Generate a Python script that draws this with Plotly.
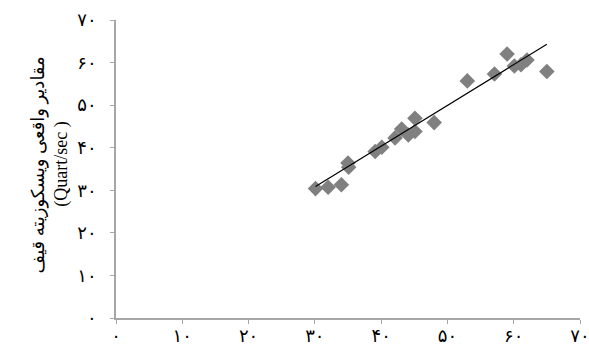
import plotly.graph_objects as go

x_vals = [30.1, 32.0, 34.0, 35.0, 35.1, 39.1, 40.1, 42.1, 43.1, 44.1, 45.1, 45.1, 48.0,
          53.0, 57.1, 59.0, 60.1, 61.1, 62.0, 65.0]
y_vals = [30.4, 30.7, 31.3, 36.4, 35.4, 39.1, 40.1, 42.3, 44.4, 43.0, 43.8, 46.9, 45.9,
          55.7, 57.3, 62.0, 59.2, 59.5, 60.6, 57.9]

# linear trend line end points
trend_x = [30.1, 65.0]
trend_y = [30.9, 64.3]

tick_vals = [0, 10, 20, 30, 40, 50, 60, 70]
tick_text = ['۰', '۱۰', '۲۰', '۳۰', '۴۰', '۵۰', '۶۰', '۷۰']

y_title_lines = ['مقادیر واقعی ویسکوزیته قیف', '(Quart/sec )']

font = "Liberation Serif, DejaVu Sans"

fig = go.Figure()
fig.add_trace(go.Scatter(x=x_vals, y=y_vals, mode='markers',
                         marker=dict(symbol='diamond', size=12, color='#808080'),
                         showlegend=False))
fig.add_trace(go.Scatter(x=trend_x, y=trend_y, mode='lines',
                         line=dict(color='black', width=1.2), showlegend=False))

axis_common = dict(range=[0, 70], tickvals=tick_vals, ticktext=tick_text,
                   showgrid=False, zeroline=False, showline=True, linecolor='#a6a6a6',
                   linewidth=1.5, ticks='outside', ticklen=4, tickcolor='#a6a6a6',
                   automargin=False, ticklabeloverflow='allow',
                   tickfont=dict(family=font, size=18, color='black'))

fig.update_xaxes(**axis_common, ticklabelstandoff=-3)
fig.update_yaxes(**axis_common, ticklabelstandoff=10)

# y axis title as two rotated lines left of the tick labels
for x_pos, line in zip([-0.166, -0.118], y_title_lines):
    fig.add_annotation(text=line, xref='paper', yref='paper', x=x_pos, y=0.515,
                       xanchor='center', yanchor='middle', textangle=-90, showarrow=False,
                       font=dict(family=font, size=18, color='black'))

fig.update_layout(width=589, height=347, plot_bgcolor='white', paper_bgcolor='white',
                  margin=dict(l=116, r=9, t=20, b=29))

# drop the default page margin so the figure fills the window without scrollbars
fig.write_html("out.html", config={'displayModeBar': False},
               post_script="document.body.style.margin='0';"
                           "document.documentElement.style.overflow='hidden';")
